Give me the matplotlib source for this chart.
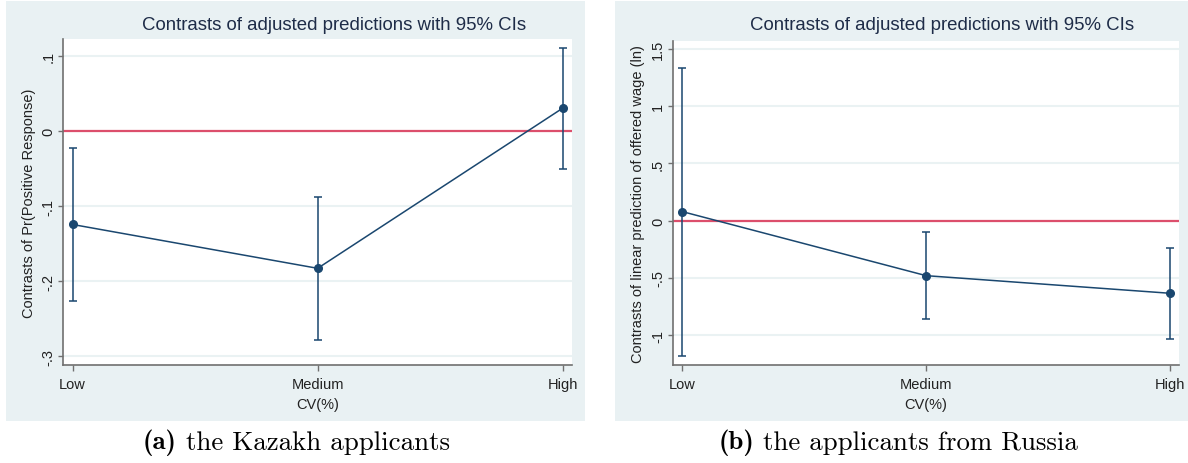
import matplotlib
matplotlib.use('Agg')
import matplotlib.pyplot as plt
from matplotlib.patches import Rectangle

plt.rcParams['font.family'] = ['Liberation Sans', 'DejaVu Sans']

# data
levels = ['Low', 'Medium', 'High']
xpos = [1, 2, 3]

kz_est = [-0.1245, -0.183, 0.0307]
kz_lo = [-0.2263, -0.2783, -0.0504]
kz_hi = [-0.0227, -0.0876, 0.111]
kz_yticks = [-0.3, -0.2, -0.1, 0, 0.1]
kz_yticklabels = ['-.3', '-.2', '-.1', '0', '.1']

ru_est = [0.079, -0.481, -0.635]
ru_lo = [-1.185, -0.862, -1.031]
ru_hi = [1.335, -0.101, -0.239]
ru_yticks = [-1, -0.5, 0, 0.5, 1, 1.5]
ru_yticklabels = ['-1', '-.5', '0', '.5', '1', '1.5']

title = 'Contrasts of adjusted predictions with 95% CIs'
xlabel = 'CV(%)'
kz_ylabel = 'Contrasts of Pr(Positive Response)'
ru_ylabel = 'Contrasts of linear prediction of offered wage (ln)'
cap_tags = ['(a)', '(b)']
cap_texts = ['the Kazakh applicants', 'the applicants from Russia']

BG = '#e9f1f3'
NAVY = '#1a476f'
RED = '#dc4f6c'
GRID = '#eaf2f3'
W, H = 1188, 464

fig = plt.figure(figsize=(W / 100, H / 100), dpi=100)

# graph region backgrounds
for x0, x1 in [(6, 585), (615, 1188)]:
    fig.patches.append(Rectangle((x0 / W, 1 - 422 / H), (x1 - x0) / W, 420 / H,
                                 transform=fig.transFigure, facecolor=BG,
                                 edgecolor='none', zorder=-10))


def panel(rect, est, lo, hi, yticks, yticklabels, ylim, ylabel):
    ax = fig.add_axes(rect)
    ax.set_facecolor('white')
    err = [[e - l for e, l in zip(est, lo)], [h - e for e, h in zip(est, hi)]]
    ax.axhline(0, color=RED, lw=1.6, zorder=2)
    ax.errorbar(xpos, est, yerr=err, fmt='none', ecolor=NAVY, elinewidth=1.1,
                capsize=3, capthick=1.1, zorder=3)
    ax.plot(xpos, est, color=NAVY, lw=1.1, marker='o', ms=5.5,
            mfc=NAVY, mec=NAVY, zorder=4)
    ax.set_xlim(0.962, 3.038)
    ax.set_ylim(*ylim)
    ax.set_xticks(xpos)
    ax.set_xticklabels(levels, fontsize=10.5, color='#222222')
    ax.set_yticks(yticks)
    ax.set_yticklabels(yticklabels, fontsize=10.5, color='#222222',
                       rotation=90, va='center')
    ax.yaxis.grid(True, color=GRID, lw=1.5, zorder=0)
    ax.set_axisbelow(True)
    for s in ['top', 'right']:
        ax.spines[s].set_visible(False)
    for s in ['left', 'bottom']:
        ax.spines[s].set_color('#707070')
        ax.spines[s].set_linewidth(1.2)
    ax.tick_params(axis='x', length=4.3, width=1.0, color='#707070', pad=4)
    ax.tick_params(axis='y', length=3.8, width=1.0, color='#707070', pad=2)
    ax.set_xlabel(xlabel, fontsize=10.5, color='#222222', labelpad=5)
    ax.set_ylabel(ylabel, fontsize=10.5, color='#222222', labelpad=4)
    return ax


ax1 = panel([63.3 / W, 1 - 366 / H, 508.7 / W, 326 / H], kz_est, kz_lo, kz_hi,
            kz_yticks, kz_yticklabels, (-0.312, 0.123), kz_ylabel)
ax2 = panel([673 / W, 1 - 366 / H, 506.3 / W, 324.3 / H], ru_est, ru_lo, ru_hi,
            ru_yticks, ru_yticklabels, (-1.262, 1.573), ru_ylabel)

for cx in [334, 942]:
    fig.text(cx / W, 1 - 26 / H, title, ha='center', va='center',
             fontsize=13.4, color='#1e2c48')

# captions: bold tag + roman text, centred together under each panel
renderer = fig.canvas.get_renderer()
for cx, tag, txt, target in zip([296, 898], cap_tags, cap_texts, [306, 359]):
    t1 = fig.text(0, 1 - 443 / H, tag, ha='left', va='center',
                  fontsize=16, family='cmb10', color='black')
    t2 = fig.text(0, 1 - 443 / H, txt, ha='left', va='center',
                  fontsize=16, family='cmr10', color='black')
    w1 = t1.get_window_extent(renderer).width
    w2 = t2.get_window_extent(renderer).width
    gap = 0.45 * 16
    scale = target / (w1 + gap + w2)
    for t in (t1, t2):
        t.set_fontsize(16 * scale)
    w1, w2, gap = w1 * scale, w2 * scale, gap * scale
    x0 = cx - (w1 + gap + w2) / 2
    t1.set_x(x0 / W)
    t2.set_x((x0 + w1 + gap) / W)

fig.savefig('out.png', dpi=100)
